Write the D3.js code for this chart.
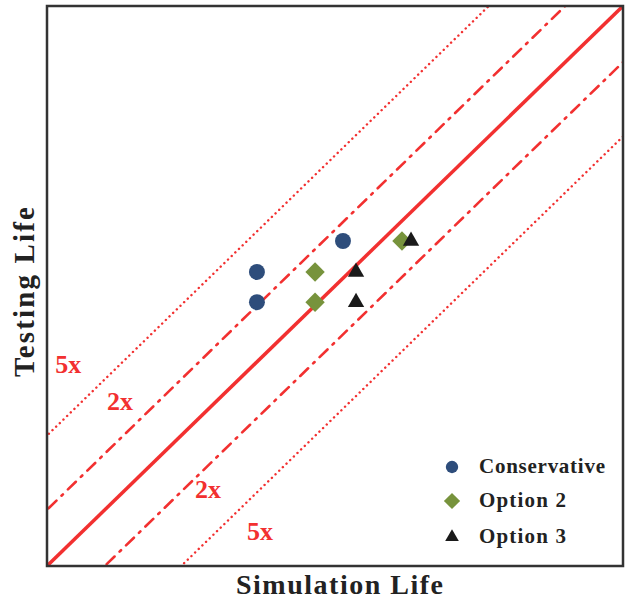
<!DOCTYPE html>
<html><head><meta charset="utf-8">
<script src="https://cdn.jsdelivr.net/npm/d3@7"></script>
<style>body{margin:0;background:#fff}svg{display:block}</style>
</head><body>
<script>
// Data (axes are log scales without tick labels)
const seriesNames = ["Conservative", "Option 2", "Option 3"];
const conservativeX = [3480, 1240, 1240];
const conservativeY = [5510, 3760, 2590];
const option2X = [2490, 2490, 7060];
const option2Y = [3760, 2590, 5510];
const option3X = [4070, 4070, 7870];
const option3Y = [3760, 2590, 5510];
const factorLines = [
  {k: 1, style: "solid"},
  {k: 2, style: "dashdot"}, {k: 0.5, style: "dashdot"},
  {k: 5, style: "dotted"}, {k: 0.2, style: "dotted"}
];
const factorLabels = [
  {text: "5x", x: 129, y: 1164},
  {text: "2x", x: 240, y: 740},
  {text: "2x", x: 690, y: 249},
  {text: "5x", x: 1286, y: 148}
];
const domain = [100, 100000];

const W = 625, H = 602;
const m = {l: 47, t: 6, r: 2, b: 36};
const pw = W - m.l - m.r, ph = H - m.t - m.b;
const red = "#f23030";
const serif = "Liberation Serif, serif";

const svg = d3.select("body").append("svg").attr("width", W).attr("height", H);
const x = d3.scaleLog().domain(domain).range([m.l, m.l + pw]);
const y = d3.scaleLog().domain(domain).range([m.t + ph, m.t]);

svg.append("defs").append("clipPath").attr("id", "clip")
  .append("rect").attr("x", m.l).attr("y", m.t).attr("width", pw).attr("height", ph);

const g = svg.append("g").attr("clip-path", "url(#clip)");
const line = d3.line().x(d => x(d[0])).y(d => y(d[1]));
factorLines.forEach(f => {
  const pts = [[domain[0] / 10, domain[0] / 10 * f.k], [domain[1] * 10, domain[1] * 10 * f.k]];
  const p = g.append("path").attr("d", line(pts)).attr("fill", "none").attr("stroke", red);
  if (f.style === "solid") p.attr("stroke-width", 3.5);
  else if (f.style === "dashdot") p.attr("stroke-width", 2.6).attr("stroke-dasharray", "11,7,2,7").attr("stroke-linecap", "round");
  else p.attr("stroke-width", 2.4).attr("stroke-dasharray", "0.1,5").attr("stroke-linecap", "round");
});

// Labels
factorLabels.forEach(l => {
  svg.append("text").attr("x", x(l.x)).attr("y", y(l.y)).text(l.text)
    .attr("fill", red).attr("font-family", serif).attr("font-weight", "bold")
    .attr("font-size", 26).attr("text-anchor", "middle").attr("dominant-baseline", "middle");
});

// Points
const sym = {
  "Conservative": {type: d3.symbolCircle, size: 200, color: "#2e4d7b", leg: 0.6},
  "Option 2": {type: d3.symbolDiamond2, size: 240, color: "#77933c", leg: 0.7},
  "Option 3": {type: d3.symbolTriangle, size: 115, color: "#1a1a1a", leg: 0.7}
};
const seriesData = [
  [conservativeX, conservativeY], [option2X, option2Y], [option3X, option3Y]
];
seriesNames.forEach((name, i) => {
  const [xs, ys] = seriesData[i];
  const s = sym[name];
  xs.forEach((xv, j) => {
    svg.append("path").attr("d", d3.symbol().type(s.type).size(s.size)())
      .attr("transform", `translate(${x(xv)},${y(ys[j])})`).attr("fill", s.color);
  });
});

// Border
svg.append("rect").attr("x", m.l).attr("y", m.t).attr("width", pw).attr("height", ph)
  .attr("fill", "none").attr("stroke", "#333").attr("stroke-width", 2.5);

// Legend
const legY = [467, 501, 537];
const legLen = [126, 87, 87];
seriesNames.forEach((name, i) => {
  const s = sym[name];
  svg.append("path").attr("d", d3.symbol().type(s.type).size(s.size * s.leg)())
    .attr("transform", `translate(452,${legY[i]})`).attr("fill", s.color);
  svg.append("text").attr("x", 479).attr("y", legY[i] + 1).text(name)
    .attr("font-family", serif).attr("font-weight", "bold")
    .attr("textLength", legLen[i]).attr("lengthAdjust", "spacing")
    .attr("font-size", 21).attr("fill", "#222").attr("dominant-baseline", "middle");
});

// Axis titles
svg.append("text").attr("x", 339.5).attr("y", 588).text("Simulation Life")
  .attr("font-family", serif).attr("font-weight", "bold")
  .attr("textLength", 207).attr("lengthAdjust", "spacing")
  .attr("font-size", 28).attr("fill", "#222").attr("text-anchor", "middle").attr("dominant-baseline", "middle");
svg.append("text").attr("transform", `translate(27,292) rotate(-90)`).text("Testing Life")
  .attr("font-family", serif).attr("font-weight", "bold")
  .attr("textLength", 170).attr("lengthAdjust", "spacing")
  .attr("font-size", 29).attr("fill", "#222").attr("text-anchor", "middle").attr("dominant-baseline", "middle");
</script>
</body></html>
